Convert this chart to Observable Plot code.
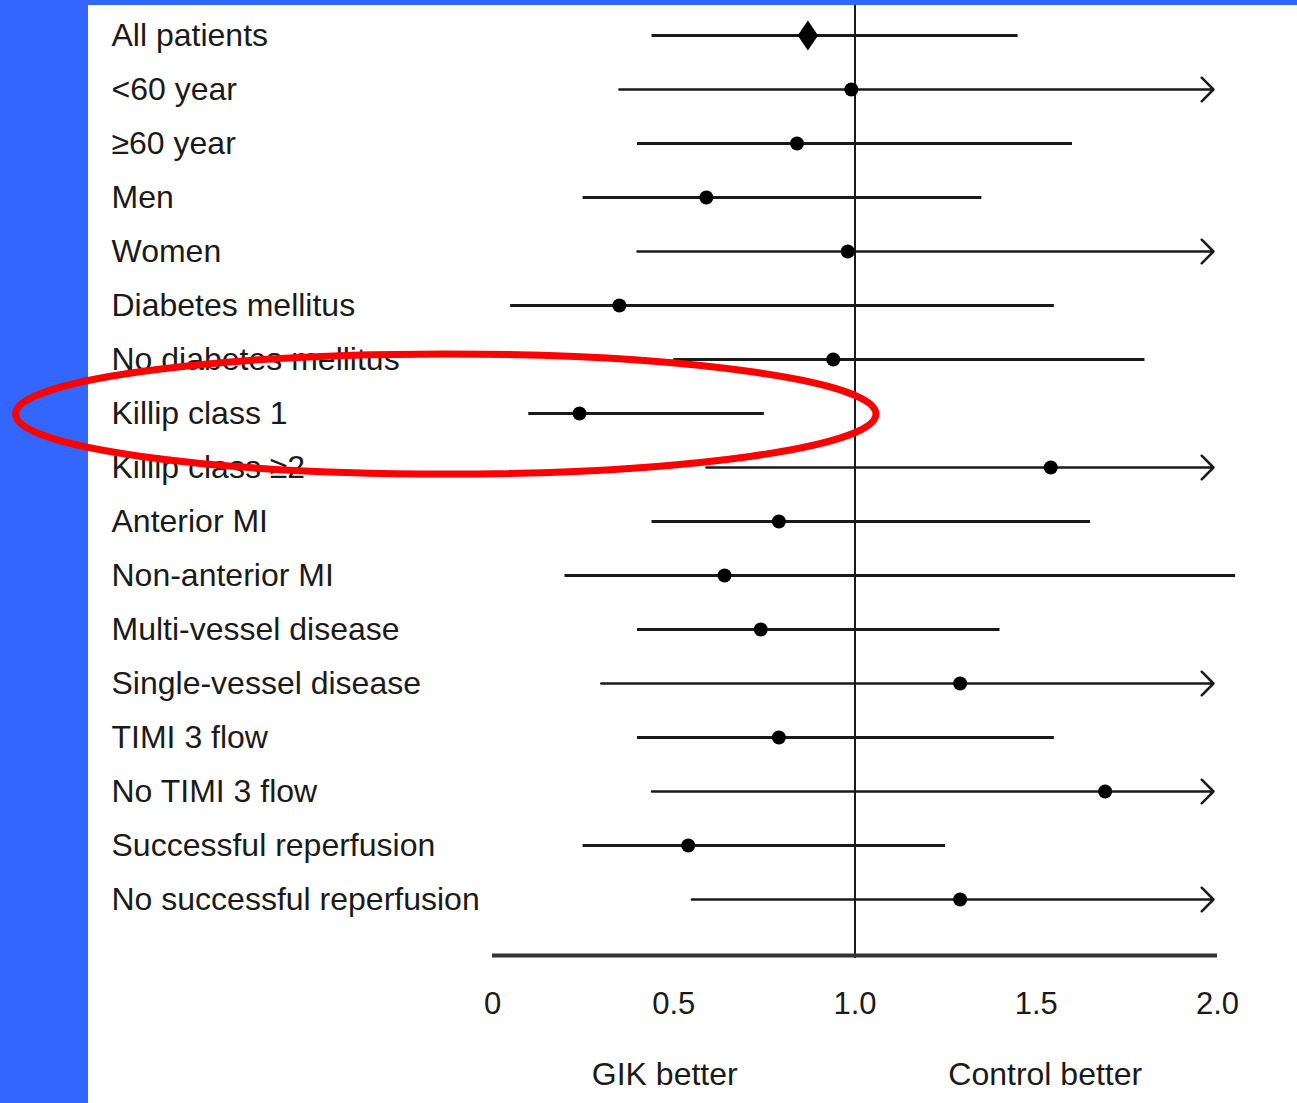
<!DOCTYPE html>
<html><head><meta charset="utf-8">
<script src="https://cdn.jsdelivr.net/npm/d3@7"></script>
<script src="https://cdn.jsdelivr.net/npm/@observablehq/plot@0.6"></script>
<style>
html,body{margin:0;padding:0;background:#fff;}
#wrap{position:relative;width:1297px;height:1103px;overflow:hidden;background:#fff;}
#left{position:absolute;left:0;top:0;width:88px;height:1103px;background:#3366ff;z-index:0;}
#top{position:absolute;left:0;top:0;width:1297px;height:5px;background:#3366ff;z-index:2;}
#chart{position:absolute;left:0;top:0;z-index:1;}
</style></head><body>
<div id="wrap"><div id="left"></div><div id="chart"></div><div id="top"></div></div>
<script>
// ---- data ----
const labels = ["All patients","<60 year","\u226560 year","Men","Women","Diabetes mellitus","No diabetes mellitus","Killip class 1","Killip class \u22652","Anterior MI","Non-anterior MI","Multi-vessel disease","Single-vessel disease","TIMI 3 flow","No TIMI 3 flow","Successful reperfusion","No successful reperfusion"];
const kind = ["overall","subgroup","subgroup","subgroup","subgroup","subgroup","subgroup","subgroup","subgroup","subgroup","subgroup","subgroup","subgroup","subgroup","subgroup","subgroup","subgroup"];
const estimate = [0.87, 0.99, 0.84, 0.59, 0.98, 0.35, 0.94, 0.24, 1.54, 0.79, 0.64, 0.74, 1.29, 0.79, 1.69, 0.54, 1.29];
const lower    = [0.44, 0.35, 0.40, 0.25, 0.40, 0.05, 0.50, 0.10, 0.59, 0.44, 0.20, 0.40, 0.30, 0.40, 0.44, 0.25, 0.55];
const upper    = [1.45, null, 1.60, 1.35, null, 1.55, 1.80, 0.75, null, 1.65, 2.05, 1.40, null, 1.55, null, 1.25, null]; // null = beyond 2.0 (arrow)
const tickValues = [0, 0.5, 1, 1.5, 2];
const tickLabels = ["0", "0.5", "1.0", "1.5", "2.0"];
const sideLabels = ["GIK better", "Control better"];
const highlighted = "Killip class 1";

const rows = labels.map((label, i) => ({label, kind: kind[i], est: estimate[i], lo: lower[i], hi: upper[i]}));
const xMax = tickValues[tickValues.length - 1];

const diamond = {
  draw(ctx, size) {
    const r = Math.sqrt(size / Math.PI);
    ctx.moveTo(0, -r);
    ctx.lineTo(r * 0.68, 0);
    ctx.lineTo(0, r);
    ctx.lineTo(-r * 0.68, 0);
    ctx.closePath();
  }
};

const ink = "#1a1a1a";
const font = "'Liberation Sans', Arial, Helvetica, sans-serif";

const chart = Plot.plot({
  width: 1297,
  height: 1103,
  marginLeft: 492,
  marginRight: 80,
  marginTop: 5,
  marginBottom: 145,
  style: {background: "transparent", fontFamily: font, overflow: "visible"},
  x: {domain: [0, xMax], axis: null},
  y: {type: "point", domain: [...labels, ""], range: [30, 958], padding: 0, axis: null},
  marks: [
    Plot.ruleX([1], {stroke: ink, strokeWidth: 2}),
    Plot.ruleY([""], {x1: 0, x2: xMax, stroke: "#333", strokeWidth: 4, dy: 2}),
    Plot.ruleY(rows.filter(d => d.hi != null), {y: "label", x1: "lo", x2: "hi", stroke: ink, strokeWidth: 3, clip: false}),
    Plot.arrow(rows.filter(d => d.hi == null), {
      x1: "lo", x2: xMax, y1: "label", y2: "label",
      stroke: ink, strokeWidth: 2.5, headAngle: 90, headLength: 10, insetEnd: 4
    }),
    Plot.dot(rows.filter(d => d.kind === "subgroup"), {x: "est", y: "label", r: 7, fill: "#000", stroke: null}),
    Plot.dot(rows.filter(d => d.kind === "overall"), {x: "est", y: "label", r: 15, symbol: diamond, fill: "#000", stroke: null}),
    Plot.text(rows, {y: "label", text: "label", frameAnchor: "left", textAnchor: "start", dx: -381, dy: 0, fontSize: 32, fill: ink}),
    Plot.axisX({ticks: tickValues, tickFormat: (d) => tickLabels[tickValues.indexOf(d)], tickSize: 0, tickPadding: 33, fontSize: 31, fill: ink, anchor: "bottom"}),
    Plot.text([sideLabels[0]], {x: (tickValues[0] + 1) / 2, text: d => d, frameAnchor: "bottom", dx: -9, dy: 126, fontSize: 32, fill: ink}),
    Plot.text([sideLabels[1]], {x: (1 + xMax) / 2, text: d => d, frameAnchor: "bottom", dx: 9, dy: 126, fontSize: 32, fill: ink}),
    (index, scales) => {
      const cy = scales.y(highlighted);
      const left = 12, right = scales.x(1) + 25;
      return d3.create("svg:ellipse")
        .attr("cx", (left + right) / 2)
        .attr("cy", cy + 1)
        .attr("rx", (right - left) / 2 - 3.5)
        .attr("ry", 60)
        .attr("fill", "none")
        .attr("stroke", "#ff0000")
        .attr("stroke-width", 7)
        .node();
    }
  ]
});
document.getElementById("chart").appendChild(chart);
</script>
</body></html>
